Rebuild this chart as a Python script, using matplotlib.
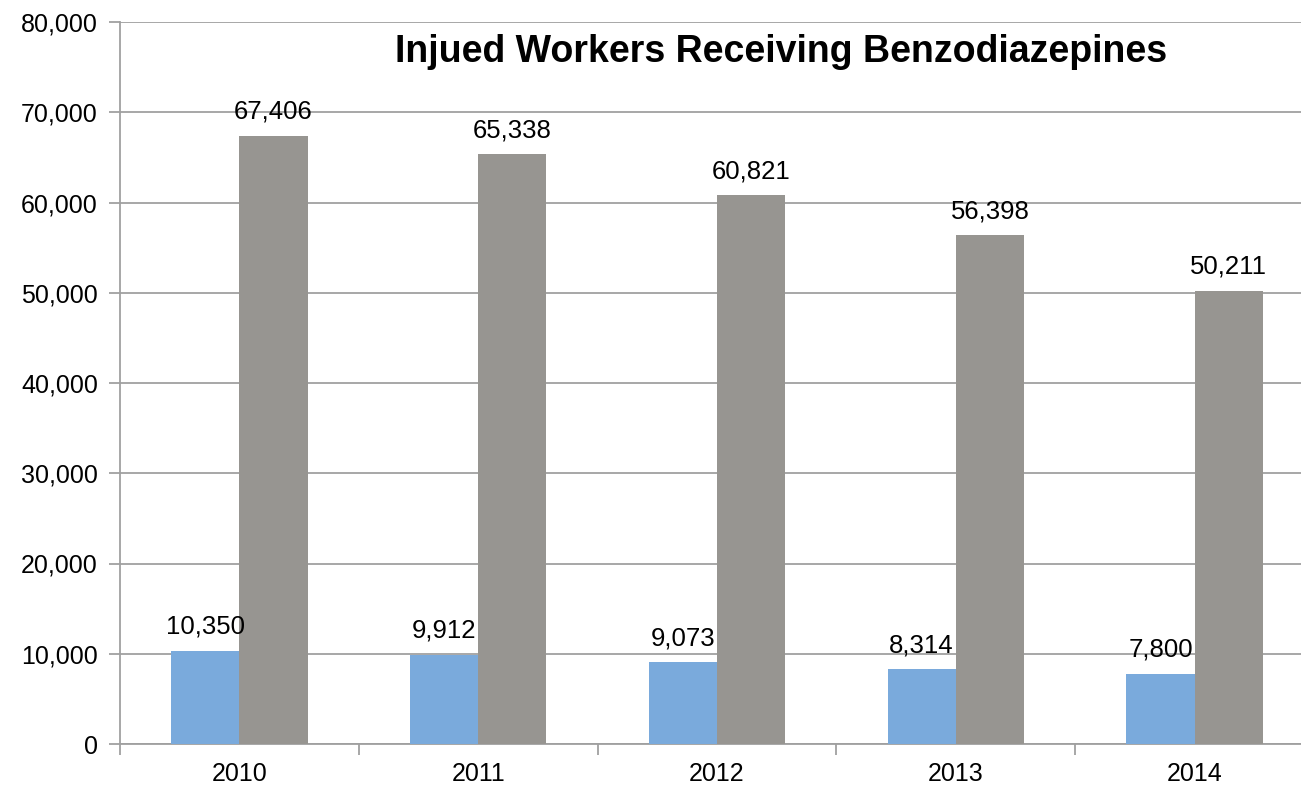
import numpy as np
import matplotlib.pyplot as plt
from matplotlib.ticker import FuncFormatter, FixedLocator

plt.rcParams['font.family'] = ['Liberation Sans', 'DejaVu Sans']

years = ['2010', '2011', '2012', '2013', '2014']
blue_vals = [10350, 9912, 9073, 8314, 7800]
gray_vals = [67406, 65338, 60821, 56398, 50211]

W, H = 1301, 787
fig = plt.figure(figsize=(W / 100, H / 100), dpi=100)
ax = fig.add_axes([120 / W, 43 / H, 1194 / W, 722 / H])

x = np.arange(len(years))
bw = 0.286
ax.bar(x - bw / 2, blue_vals, bw, color='#7AAADC', zorder=3)
ax.bar(x + bw / 2, gray_vals, bw, color='#979591', zorder=3)

# value labels a bit above each bar
for xi, v in zip(x, blue_vals):
    ax.text(xi - bw / 2, v + 2650, f'{v:,}', ha='center', va='center', fontsize=18.5, zorder=4)
for xi, v in zip(x, gray_vals):
    ax.text(xi + bw / 2, v + 2650, f'{v:,}', ha='center', va='center', fontsize=18.5, zorder=4)

ax.set_xlim(-0.5, len(years) - 0.5)
ax.set_ylim(0, 80000)
ax.set_yticks(np.arange(0, 80001, 10000))
ax.yaxis.set_major_formatter(FuncFormatter(lambda v, p: f'{int(v):,}'))
ax.grid(axis='y', color='#A0A0A0', linewidth=1.3, zorder=0)

ax.set_xticks(x)
ax.set_xticklabels(years)
ax.xaxis.set_minor_locator(FixedLocator(np.arange(-0.5, len(years), 1.0)))
ax.tick_params(axis='x', which='major', length=0, labelsize=18, pad=13)
ax.tick_params(axis='x', which='minor', length=8, width=1.3, color='#A0A0A0')
ax.tick_params(axis='y', length=8, width=1.3, color='#A0A0A0', labelsize=18, pad=8)

for s in ['top', 'right']:
    ax.spines[s].set_visible(False)
for s in ['left', 'bottom']:
    ax.spines[s].set_color('#A0A0A0')
    ax.spines[s].set_linewidth(1.3)

fig.text(781 / W, 1 - 52 / H, 'Injued Workers Receiving Benzodiazepines',
         ha='center', va='center', fontsize=27, fontweight='bold')

fig.savefig('out.png', dpi=100)
